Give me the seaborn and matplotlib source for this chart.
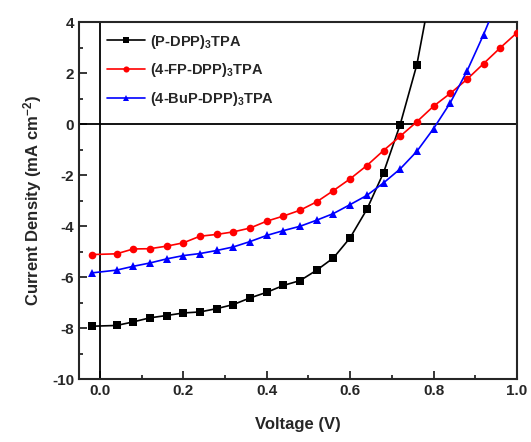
#!/usr/bin/env python3
"""J-V curves of three DPP-TPA devices."""

import matplotlib
matplotlib.use("Agg")
import matplotlib.pyplot as plt
from matplotlib.ticker import MultipleLocator
import pandas as pd
import seaborn as sns

# -----------------------------------------------------------------------------
# Data
# -----------------------------------------------------------------------------
LABEL_P = "(P-DPP)$_3$TPA"
LABEL_FP = "(4-FP-DPP)$_3$TPA"
LABEL_BUP = "(4-BuP-DPP)$_3$TPA"

voltage_p = [-0.02, 0.04, 0.08, 0.12, 0.16, 0.20, 0.24, 0.28, 0.32, 0.36,
             0.40, 0.44, 0.48, 0.52, 0.56, 0.60, 0.64, 0.68, 0.72, 0.76, 0.80]
current_p = [-7.93, -7.90, -7.76, -7.60, -7.51, -7.41, -7.37, -7.24, -7.08, -6.82,
             -6.60, -6.33, -6.14, -5.73, -5.25, -4.46, -3.35, -1.91, -0.02, 2.33, 5.8]

voltage_fp = [-0.02, 0.04, 0.08, 0.12, 0.16, 0.20, 0.24, 0.28, 0.32, 0.36,
              0.40, 0.44, 0.48, 0.52, 0.56, 0.60, 0.64, 0.68, 0.72, 0.76,
              0.80, 0.84, 0.88, 0.92, 0.96, 1.00]
current_fp = [-5.12, -5.09, -4.90, -4.89, -4.79, -4.66, -4.40, -4.33, -4.23, -4.08,
              -3.81, -3.61, -3.38, -3.05, -2.61, -2.15, -1.63, -1.04, -0.48, 0.09,
              0.70, 1.20, 1.75, 2.37, 2.99, 3.58]

voltage_bup = [-0.02, 0.04, 0.08, 0.12, 0.16, 0.20, 0.24, 0.28, 0.32, 0.36,
               0.40, 0.44, 0.48, 0.52, 0.56, 0.60, 0.64, 0.68, 0.72, 0.76,
               0.80, 0.84, 0.88, 0.92, 0.96]
current_bup = [-5.84, -5.73, -5.58, -5.45, -5.29, -5.16, -5.08, -4.96, -4.82, -4.61,
               -4.37, -4.18, -4.01, -3.77, -3.51, -3.16, -2.80, -2.31, -1.76, -1.07,
               -0.18, 0.83, 2.07, 3.51, 5.1]

# -----------------------------------------------------------------------------
# Styling
# -----------------------------------------------------------------------------
COLORS = {LABEL_P: "black", LABEL_FP: "red", LABEL_BUP: "blue"}
MARKERS = {LABEL_P: "s", LABEL_FP: "o", LABEL_BUP: "^"}

sns.set_style("ticks")
plt.rcParams["font.family"] = ["Liberation Sans", "DejaVu Sans"]
plt.rcParams["font.weight"] = "bold"
plt.rcParams["axes.unicode_minus"] = False
plt.rcParams["mathtext.fontset"] = "custom"
plt.rcParams["mathtext.rm"] = "Liberation Sans:bold"
plt.rcParams["mathtext.it"] = "Liberation Sans:bold"
plt.rcParams["mathtext.bf"] = "Liberation Sans:bold"
plt.rcParams["mathtext.default"] = "rm"


def build_frame():
    frames = []
    for label, v, j in [(LABEL_P, voltage_p, current_p),
                        (LABEL_FP, voltage_fp, current_fp),
                        (LABEL_BUP, voltage_bup, current_bup)]:
        frames.append(pd.DataFrame({"voltage": v, "current": j, "device": label}))
    return pd.concat(frames, ignore_index=True)


def main():
    data = build_frame()

    fig = plt.figure(figsize=(5.31, 4.42), dpi=100)
    ax = fig.add_axes([0.1488, 0.1425, 0.8248, 0.8077])

    ax.axhline(0, color="black", linewidth=1.3, zorder=1)
    ax.axvline(0, color="black", linewidth=1.3, zorder=1)

    sns.lineplot(
        data=data, x="voltage", y="current", hue="device", style="device",
        palette=COLORS, markers=MARKERS, dashes=False, sort=False,
        linewidth=1.2, markersize=5.5, markeredgewidth=0, ax=ax, zorder=3,
    )

    ax.set_xlim(-0.05, 1.0)
    ax.set_ylim(-10, 4)
    ax.xaxis.set_major_locator(MultipleLocator(0.2))
    ax.xaxis.set_minor_locator(MultipleLocator(0.1))
    ax.yaxis.set_major_locator(MultipleLocator(2))
    ax.yaxis.set_minor_locator(MultipleLocator(1))
    ax.tick_params(which="both", direction="in", top=False, right=False,
                   width=1.3, labelsize=11)
    ax.tick_params(which="major", length=6)
    ax.tick_params(which="minor", length=3)
    for spine in ax.spines.values():
        spine.set_linewidth(1.5)
        spine.set_visible(True)

    ax.set_xlabel("Voltage (V)", fontsize=12, fontweight="bold", labelpad=14)
    ax.set_ylabel("Current Density (mA cm$^{-2}$)", fontsize=12,
                  fontweight="bold", labelpad=6)

    legend = ax.legend(loc="upper left", bbox_to_anchor=(0.045, 0.995),
                       frameon=False, fontsize=10.5, handlelength=2.6,
                       handletextpad=0.35, labelspacing=0.75, borderaxespad=0.2,
                       markerscale=0.8)
    for handle in legend.legend_handles:
        handle.set_linewidth(1.2)

    fig.savefig("out.png", dpi=100)


if __name__ == "__main__":
    main()
